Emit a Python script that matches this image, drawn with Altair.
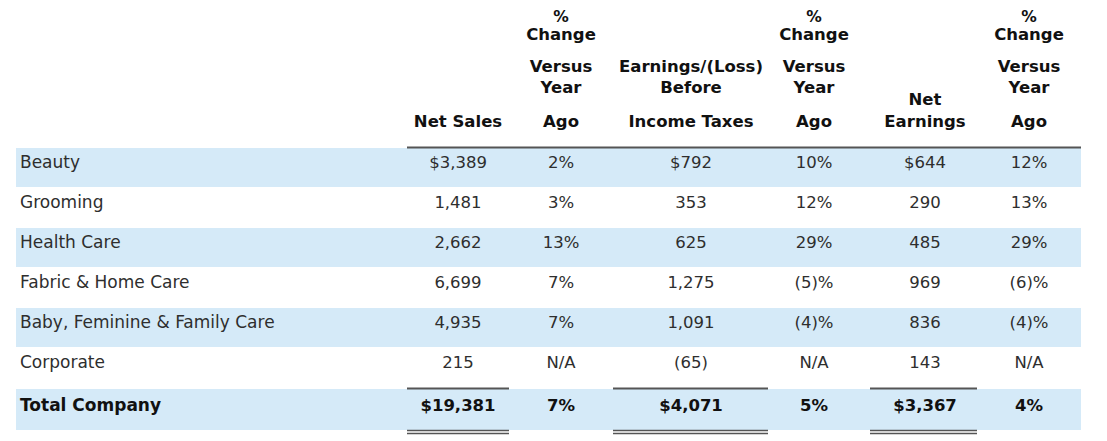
import altair as alt
import pandas as pd

# ---------------- data ----------------
categories = ["Beauty", "Grooming", "Health Care", "Fabric & Home Care",
              "Baby, Feminine & Family Care", "Corporate", "Total Company"]
net_sales = ["$3,389", "1,481", "2,662", "6,699", "4,935", "215", "$19,381"]
net_sales_chg = ["2%", "3%", "13%", "7%", "7%", "N/A", "7%"]
ebt = ["$792", "353", "625", "1,275", "1,091", "(65)", "$4,071"]
ebt_chg = ["10%", "12%", "29%", "(5)%", "(4)%", "N/A", "5%"]
net_earnings = ["$644", "290", "485", "969", "836", "143", "$3,367"]
net_earnings_chg = ["12%", "13%", "29%", "(6)%", "(4)%", "N/A", "4%"]

header_net_sales = ["Net Sales"]
header_chg = ["%", "Change", "Versus", "Year", "Ago"]
header_ebt = ["Earnings/(Loss)", "Before", "Income Taxes"]
header_ne = ["Net", "Earnings"]

# ---------------- layout (page pixel coordinates) ----------------
COL_X = [458, 561, 691, 814, 925, 1029]
LABEL_X = 20
ROW_Y = [163, 203, 243, 283, 323, 363, 406]
STRIPED = [0, 2, 4, 6]
BAND_TOP = [148, 188, 228, 268, 308, 348, 389]
BAND_BOT = [187, 227, 267, 307, 347, 387, 430]
STRIPE_X = (16, 1081)
HDR_Y_CHG = [17, 35, 67, 88, 122]
HDR_SIZE_CHG = [15.5, 16.5, 16.5, 16.5, 16.5]
HDR_Y_EBT = [67, 88, 122]
HDR_Y_NE = [100, 122]
HDR_Y_NS = [122]
TOTAL_SEGS = [(407, 509), (613, 768), (870, 977)]

FONT = "DejaVu Sans"
W, H = 1091, 433
xs = alt.Scale(domain=[8, 8 + W], nice=False, zero=False)
ys = alt.Scale(domain=[8, 8 + H], nice=False, zero=False, reverse=True)
X = lambda f: alt.X(f, type="quantitative", scale=xs, axis=None)
Y = lambda f: alt.Y(f, type="quantitative", scale=ys, axis=None)

# stripes
bands = pd.DataFrame({
    "x": [STRIPE_X[0]] * len(STRIPED), "x2": [STRIPE_X[1]] * len(STRIPED),
    "y": [BAND_TOP[i] for i in STRIPED], "y2": [BAND_BOT[i] for i in STRIPED],
})
band_layer = alt.Chart(bands).mark_rect(color="#d5eaf8").encode(
    x=X("x"), x2="x2", y=Y("y"), y2="y2")

# rules
rules = [
    {"x": 407, "x2": 1081, "y": 147.5, "w": 2.0},
]
for a, b in TOTAL_SEGS:
    rules.append({"x": a, "x2": b, "y": 388.5, "w": 2.0})
    rules.append({"x": a, "x2": b, "y": 430.5, "w": 1.6})
    rules.append({"x": a, "x2": b, "y": 433.5, "w": 1.6})
rule_df = pd.DataFrame(rules)
rule_layer = alt.Chart(rule_df).mark_rule(color="#555555").encode(
    x=X("x"), x2="x2", y=Y("y"),
    strokeWidth=alt.StrokeWidth("w:Q", scale=None, legend=None))

# header text
hdr = []
for t, y in zip(header_net_sales, HDR_Y_NS):
    hdr.append({"t": t, "x": COL_X[0], "y": y, "s": 16.5})
for ci in (1, 3, 5):
    for t, y, s in zip(header_chg, HDR_Y_CHG, HDR_SIZE_CHG):
        hdr.append({"t": t, "x": COL_X[ci], "y": y, "s": s})
for t, y in zip(header_ebt, HDR_Y_EBT):
    hdr.append({"t": t, "x": COL_X[2], "y": y, "s": 16.5})
for t, y in zip(header_ne, HDR_Y_NE):
    hdr.append({"t": t, "x": COL_X[4], "y": y, "s": 16.5})
hdr_layer = alt.Chart(pd.DataFrame(hdr)).mark_text(
    font=FONT, fontWeight="bold", color="#111111",
    align="center", baseline="middle").encode(
    x=X("x"), y=Y("y"), text="t:N",
    size=alt.Size("s:Q", scale=None, legend=None))

# body
cols = [net_sales, net_sales_chg, ebt, ebt_chg, net_earnings, net_earnings_chg]
cells = []
for r, cat in enumerate(categories):
    bold = r == len(categories) - 1
    cells.append({"t": cat, "x": LABEL_X, "y": ROW_Y[r], "bold": bold, "lab": True})
    for ci, col in enumerate(cols):
        cells.append({"t": col[r], "x": COL_X[ci], "y": ROW_Y[r], "bold": bold, "lab": False})
cdf = pd.DataFrame(cells)

def body(df, align, weight, color, size):
    return alt.Chart(df).mark_text(
        font=FONT, fontSize=size, fontWeight=weight, color=color,
        align=align, baseline="middle").encode(x=X("x"), y=Y("y"), text="t:N")

layers = [
    body(cdf[(cdf.lab) & (~cdf.bold)], "left", "normal", "#2e2e2e", 17),
    body(cdf[(~cdf.lab) & (~cdf.bold)], "center", "normal", "#2e2e2e", 16.5),
    body(cdf[(cdf.lab) & (cdf.bold)], "left", "bold", "#111111", 17),
    body(cdf[(~cdf.lab) & (cdf.bold)], "center", "bold", "#111111", 16.5),
]

chart = alt.layer(band_layer, rule_layer, hdr_layer, *layers).properties(
    width=W, height=H, autosize=alt.AutoSizeParams(type="none"), padding=0
).configure(background="white", view=alt.ViewConfig(stroke=None))

chart.save("out.html", embed_options={"renderer": "svg", "actions": False})
